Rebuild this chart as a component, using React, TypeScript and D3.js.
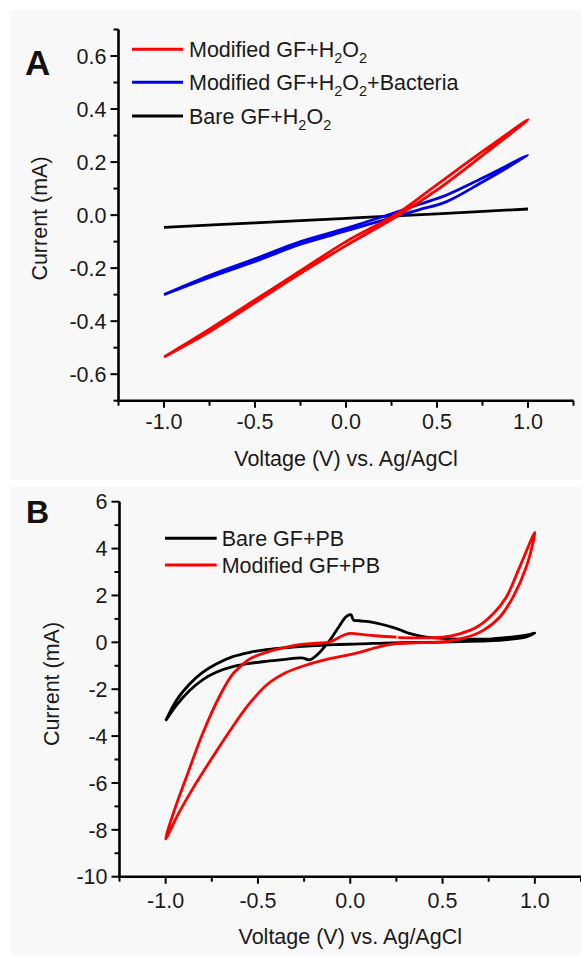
import React from 'react';
import * as d3 from 'd3';

const W = 581;
const H = 957;
const FONT = '"Liberation Sans", Arial, Helvetica, sans-serif';

// ---------- Panel A data (Voltage V, Current mA) ----------
const aRedV = [-1, -0.75, -0.5, -0.25, 0, 0.28, 0.5, 0.75, 1, 0.75, 0.5, 0.28, 0, -0.25, -0.5, -0.75, -1];
const aRedI = [-0.535, -0.44, -0.33, -0.22, -0.115, -0.005, 0.095, 0.225, 0.36, 0.24, 0.115, 0.005, -0.1, -0.21, -0.32, -0.43, -0.535];

const aBlueV = [-1, -0.75, -0.5, -0.25, 0, 0.25, 0.4, 0.55, 0.75, 1, 0.75, 0.55, 0.4, 0.25, 0, -0.25, -0.5, -0.75, -1];
const aBlueI = [-0.3, -0.235, -0.175, -0.11, -0.06, -0.01, 0.02, 0.05, 0.125, 0.226, 0.14, 0.075, 0.04, 0.005, -0.05, -0.1, -0.165, -0.228, -0.3];

const aBlackV = [-1, -0.5, 0, 0.5, 1];
const aBlackI = [-0.046, -0.029, -0.012, 0.005, 0.023];

// ---------- Panel B data ----------
const bBlackV = [-1, -0.943, -0.87, -0.8, -0.726, -0.636, -0.545, -0.455, -0.365, -0.257, -0.22, -0.184, -0.112, -0.058, -0.022, 0.003, 0.018, 0.05, 0.1, 0.18, 0.23, 0.28, 0.32, 0.41, 0.5, 0.59, 0.77, 0.9, 0.97, 1.0,
  0.95, 0.85, 0.77, 0.6, 0.41, 0.23, 0.05, -0.09, -0.184, -0.275, -0.365, -0.455, -0.545, -0.636, -0.726, -0.8, -0.87, -0.943, -1];
const bBlackI = [-3.35, -2.7, -2.06, -1.6, -1.28, -1.04, -0.9, -0.81, -0.74, -0.67, -0.75, -0.57, 0.07, 0.71, 1.1, 1.18, 0.95, 0.92, 0.88, 0.75, 0.64, 0.5, 0.38, 0.22, 0.17, 0.14, 0.15, 0.25, 0.33, 0.4,
  0.22, 0.12, 0.07, 0.03, 0.0, -0.02, -0.07, -0.1, -0.14, -0.18, -0.24, -0.31, -0.43, -0.61, -0.92, -1.28, -1.78, -2.49, -3.35];

const bRedV = [0.25, 0.15, 0.07, 0, -0.04, -0.11, -0.184, -0.275, -0.365, -0.455, -0.545, -0.6, -0.636, -0.708, -0.8, -0.888, -0.95, -1,
  -0.93, -0.85, -0.75, -0.65, -0.55, -0.45, -0.35, -0.25, -0.15, -0.05, 0.05, 0.15, 0.25, 0.35, 0.5, 0.628, 0.718, 0.809, 0.881, 0.953, 1.0,
  0.917, 0.845, 0.773, 0.683, 0.592, 0.5, 0.4, 0.26];
const bRedI = [0.22, 0.27, 0.33, 0.38, 0.29, 0.02, -0.04, -0.1, -0.24, -0.43, -0.71, -1.07, -1.35, -2.3, -3.9, -5.76, -7.1, -8.39,
  -7.3, -6.2, -4.95, -3.75, -2.65, -1.8, -1.3, -1.0, -0.77, -0.6, -0.43, -0.2, -0.06, -0.02, 0.02, 0.21, 0.5, 1.07, 1.92, 3.2, 4.69,
  3.2, 1.92, 1.21, 0.64, 0.36, 0.22, 0.19, 0.2];

// ---------- Ticks ----------
const xMajorTicks = [-1, -0.5, 0, 0.5, 1];
const xMinorTicks = [-1.25, -0.75, -0.25, 0.25, 0.75, 1.25];
const aYMajorTicks = [-0.6, -0.4, -0.2, 0, 0.2, 0.4, 0.6];
const aYMinorTicks = [-0.7, -0.5, -0.3, -0.1, 0.1, 0.3, 0.5, 0.7];
const bYMajorTicks = [-10, -8, -6, -4, -2, 0, 2, 4, 6];
const bYMinorTicks = [-9, -7, -5, -3, -1, 1, 3, 5];

// ---------- Labels ----------
const xTitle = 'Voltage (V) vs. Ag/AgCl';
const yTitle = 'Current (mA)';
const aLegendLabels = ['Modified GF+H_2O_2', 'Modified GF+H_2O_2+Bacteria', 'Bare GF+H_2O_2'];
const aLegendColors = ['#ff0000', '#0000e6', '#000000'];
const bLegendLabels = ['Bare GF+PB', 'Modified GF+PB'];
const bLegendColors = ['#000000', '#ff0000'];

const FS = 21.5;

function RichText({ label, x, y }: { label: string; x: number; y: number }) {
  const parts: { t: string; sub: boolean }[] = [];
  let buf = '';
  for (let i = 0; i < label.length; i++) {
    if (label[i] === '_' && i + 1 < label.length) {
      if (buf) parts.push({ t: buf, sub: false });
      buf = '';
      parts.push({ t: label[i + 1], sub: true });
      i++;
    } else buf += label[i];
  }
  if (buf) parts.push({ t: buf, sub: false });
  let inSub = false;
  return (
    <text x={x} y={y} fontFamily={FONT} fontSize={FS} fill="#1a1a1a">
      {parts.map((p, k) => {
        let dy = 0;
        if (p.sub && !inSub) dy = 6;
        if (!p.sub && inSub) dy = -6;
        inSub = p.sub;
        return (
          <tspan key={k} dy={dy} fontSize={p.sub ? 14.5 : FS}>
            {p.t}
          </tspan>
        );
      })}
    </text>
  );
}

type AxisProps = {
  x: d3.ScaleLinear<number, number>;
  y: d3.ScaleLinear<number, number>;
  yMajor: number[];
  yMinor: number[];
  fmtY: (v: number) => string;
  xLabelDy: number;
  xTitleDy: number;
  yTitleX: number;
  yTitleY: number;
};

function Axes({ x, y, yMajor, yMinor, fmtY, xLabelDy, xTitleDy, yTitleX, yTitleY }: AxisProps) {
  const [x0, x1] = x.range();
  const [yb, yt] = y.range();
  return (
    <g>
      <line x1={x0} x2={x0} y1={yt} y2={yb} stroke="#000" strokeWidth={2.6} />
      <line x1={x0 - 1.3} x2={x1} y1={yb} y2={yb} stroke="#000" strokeWidth={2.6} />
      {yMajor.map((v) => (
        <g key={'ym' + v}>
          <line x1={x0 - 8} x2={x0} y1={y(v)} y2={y(v)} stroke="#000" strokeWidth={2} />
          <text x={x0 - 12} y={y(v)} dy="0.36em" textAnchor="end" fontFamily={FONT} fontSize={FS} fill="#1a1a1a">
            {fmtY(v)}
          </text>
        </g>
      ))}
      {yMinor.map((v) => (
        <line key={'yn' + v} x1={x0 - 5} x2={x0} y1={y(v)} y2={y(v)} stroke="#000" strokeWidth={2} />
      ))}
      {xMajorTicks.map((v) => (
        <g key={'xm' + v}>
          <line x1={x(v)} x2={x(v)} y1={yb} y2={yb + 7} stroke="#000" strokeWidth={2} />
          <text x={x(v)} y={yb + xLabelDy} textAnchor="middle" fontFamily={FONT} fontSize={FS} fill="#1a1a1a">
            {v.toFixed(1)}
          </text>
        </g>
      ))}
      {xMinorTicks.map((v) => (
        <line key={'xn' + v} x1={x(v)} x2={x(v)} y1={yb} y2={yb + 5} stroke="#000" strokeWidth={2} />
      ))}
      <text x={(x0 + x1) / 2} y={yb + xTitleDy} textAnchor="middle" fontFamily={FONT} fontSize={FS} fill="#1a1a1a">
        {xTitle}
      </text>
      <text
        transform={`translate(${yTitleX},${yTitleY}) rotate(-90)`}
        textAnchor="middle"
        fontFamily={FONT}
        fontSize={FS}
        fill="#1a1a1a"
      >
        {yTitle}
      </text>
    </g>
  );
}

function makePath(x: d3.ScaleLinear<number, number>, y: d3.ScaleLinear<number, number>, V: number[], I: number[]) {
  const pts = d3.zip(V, I) as [number, number][];
  return d3
    .line<[number, number]>()
    .x((d) => x(d[0]))
    .y((d) => y(d[1]))
    .curve(d3.curveCatmullRom.alpha(0.5))(pts) as string;
}

export default function App() {
  const xA = d3.scaleLinear().domain([-1.25, 1.25]).range([118.5, 573.5]);
  const yA = d3.scaleLinear().domain([-0.7, 0.7]).range([400.7, 29.5]);
  const xB = d3.scaleLinear().domain([-1.25, 1.25]).range([119.5, 581]);
  const yB = d3.scaleLinear().domain([-10, 6]).range([876.7, 501.7]);

  const aLegendY = [49.3, 82.3, 116];
  const bLegendY = [538.3, 565];

  return (
    <svg
      width={W}
      height={H}
      viewBox={`0 0 ${W} ${H}`}
      style={{ position: 'absolute', left: 0, top: 0, display: 'block', background: '#fff' }}
    >
      <rect x={0} y={0} width={W} height={H} fill="#fff" />
      <rect x={10} y={10} width={W - 10} height={470} fill="#f8f8f8" />
      <rect x={10} y={487} width={W - 10} height={468} fill="#f8f8f8" />

      {/* Panel A */}
      <text x={25} y={75} fontFamily={FONT} fontSize={35} fontWeight="bold" fill="#111">A</text>
      <Axes
        x={xA}
        y={yA}
        yMajor={aYMajorTicks}
        yMinor={aYMinorTicks}
        fmtY={(v) => v.toFixed(1)}
        xLabelDy={28.5}
        xTitleDy={65}
        yTitleX={47}
        yTitleY={218.5}
      />
      <path d={makePath(xA, yA, aBlackV, aBlackI)} fill="none" stroke="#000" strokeWidth={2.8} strokeLinejoin="round" />
      <path d={makePath(xA, yA, aBlueV, aBlueI)} fill="none" stroke="#0000e6" strokeWidth={2.8} strokeLinejoin="round" />
      <path d={makePath(xA, yA, aRedV, aRedI)} fill="none" stroke="#ff0000" strokeWidth={2.8} strokeLinejoin="round" />
      {aLegendLabels.map((lab, k) => (
        <g key={lab}>
          <line x1={132} x2={183} y1={aLegendY[k]} y2={aLegendY[k]} stroke={aLegendColors[k]} strokeWidth={3} />
          <RichText label={lab} x={189} y={aLegendY[k] + 7.5} />
        </g>
      ))}

      {/* Panel B */}
      <text x={26} y={523} fontFamily={FONT} fontSize={32} fontWeight="bold" fill="#111">B</text>
      <Axes
        x={xB}
        y={yB}
        yMajor={bYMajorTicks}
        yMinor={bYMinorTicks}
        fmtY={(v) => String(v)}
        xLabelDy={31}
        xTitleDy={67.5}
        yTitleX={59}
        yTitleY={684}
      />
      <path d={makePath(xB, yB, bBlackV, bBlackI)} fill="none" stroke="#000" strokeWidth={2.8} strokeLinejoin="round" />
      <path d={makePath(xB, yB, bRedV, bRedI)} fill="none" stroke="#ff0000" strokeWidth={2.8} strokeLinejoin="round" />
      {bLegendLabels.map((lab, k) => (
        <g key={lab}>
          <line x1={165} x2={216.7} y1={bLegendY[k]} y2={bLegendY[k]} stroke={bLegendColors[k]} strokeWidth={3} />
          <RichText label={lab} x={221.7} y={bLegendY[k] + 7.5} />
        </g>
      ))}
    </svg>
  );
}
